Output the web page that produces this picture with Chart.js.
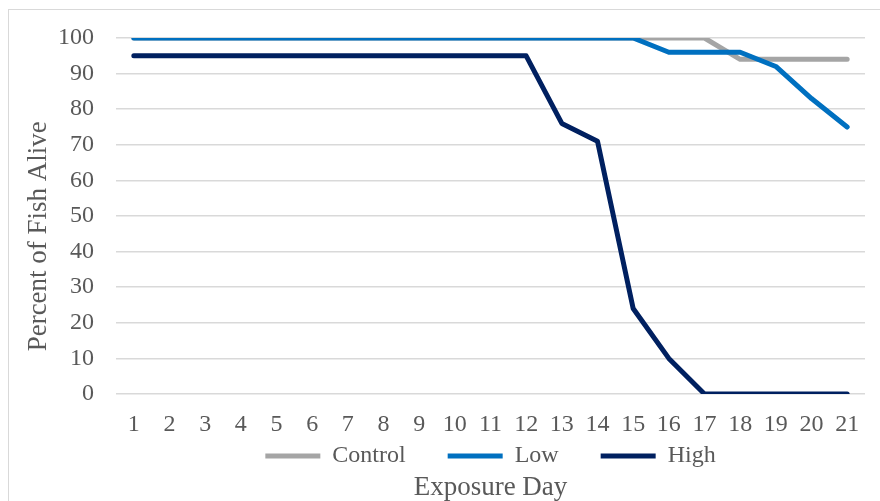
<!DOCTYPE html>
<html>
<head>
<meta charset="utf-8">
<script src="https://cdn.jsdelivr.net/npm/chart.js@4"></script>
<style>
html, body { margin: 0; padding: 0; background: #fff; }
#wrap { position: relative; width: 880px; height: 501px; overflow: hidden; }
#frame { position: absolute; left: 8px; top: 9px; width: 900px; height: 520px; border: 1px solid #d9d9d9; }
canvas { position: absolute; left: 0; top: 0; }
</style>
</head>
<body>
<div id="wrap">
  <div id="frame"></div>
  <canvas id="myChart" width="880" height="501"></canvas>
</div>
<script>
var days = ['1', '2', '3', '4', '5', '6', '7', '8', '9', '10', '11', '12', '13', '14', '15', '16', '17', '18', '19', '20', '21'];
var control = [100, 100, 100, 100, 100, 100, 100, 100, 100, 100, 100, 100, 100, 100, 100, 100, 100, 94, 94, 94, 94];
var low = [100, 100, 100, 100, 100, 100, 100, 100, 100, 100, 100, 100, 100, 100, 100, 96, 96, 96, 92, 83, 75];
var high = [95, 95, 95, 95, 95, 95, 95, 95, 95, 95, 95, 95, 76, 71, 24, 10, 0, 0, 0, 0, 0];

Chart.defaults.font.family = "'Liberation Serif', 'Times New Roman', serif";
Chart.defaults.font.size = 24;
Chart.defaults.color = '#595959';

function line(label, data, color, order) {
    return {
        label: label,
        data: data,
        borderColor: color,
        backgroundColor: color,
        borderWidth: 5,
        pointRadius: 0,
        tension: 0,
        borderCapStyle: 'round',
        borderJoinStyle: 'round',
        fill: false,
        order: order
    };
}

// keep the legend row compact (labels.padding also sets the vertical space)
var legendHeight = {
    id: 'legendHeight',
    beforeInit: function (chart) {
        var fit = chart.legend.fit;
        chart.legend.fit = function () {
            fit.bind(chart.legend)();
            this.height = 36;
        };
    }
};

var ctx = document.getElementById('myChart').getContext('2d');
var myChart = new Chart(ctx, {
    type: 'line',
    data: {
        labels: days,
        datasets: [
            line('Control', control, '#a5a5a5', 3),
            line('Low', low, '#0070c0', 2),
            line('High', high, '#002060', 1)
        ]
    },
    options: {
        responsive: false,
        animation: false,
        devicePixelRatio: 1,
        layout: {
            padding: { left: 19, right: 15, top: 38, bottom: 0 }
        },
        plugins: {
            tooltip: { enabled: false },
            legend: {
                position: 'bottom',
                fullSize: false,
                labels: {
                    boxWidth: 55,
                    boxHeight: 5,
                    padding: 6,
                    font: { size: 24 },
                    generateLabels: function (chart) {
                        var items = Chart.defaults.plugins.legend.labels.generateLabels(chart);
                        items.sort(function (a, b) { return a.datasetIndex - b.datasetIndex; });
                        return items.map(function (it, i) {
                            it.lineWidth = 0;
                            if (i < items.length - 1) it.text = it.text + '      ';
                            return it;
                        });
                    }
                }
            },
            title: {
                display: true,
                position: 'bottom',
                fullSize: false,
                text: 'Exposure Day',
                font: { size: 27, weight: 'normal', lineHeight: 1 },
                padding: { top: 0, bottom: 0 }
            }
        },
        scales: {
            x: {
                offset: true,
                grid: { display: false, drawTicks: false },
                border: { display: false },
                ticks: { padding: 16, maxRotation: 0, autoSkip: false },
                afterFit: function (scale) { scale.height = 44; }
            },
            y: {
                min: 0,
                max: 100,
                ticks: { stepSize: 10, padding: 22 },
                grid: { color: '#d9d9d9', lineWidth: 1.5, drawTicks: false },
                border: { display: false },
                title: {
                    display: true,
                    text: 'Percent of Fish Alive      ',
                    font: { size: 27 }
                },
                afterFit: function (scale) { scale.width = 97; }
            }
        }
    },
    plugins: [legendHeight]
});
</script>
</body>
</html>
